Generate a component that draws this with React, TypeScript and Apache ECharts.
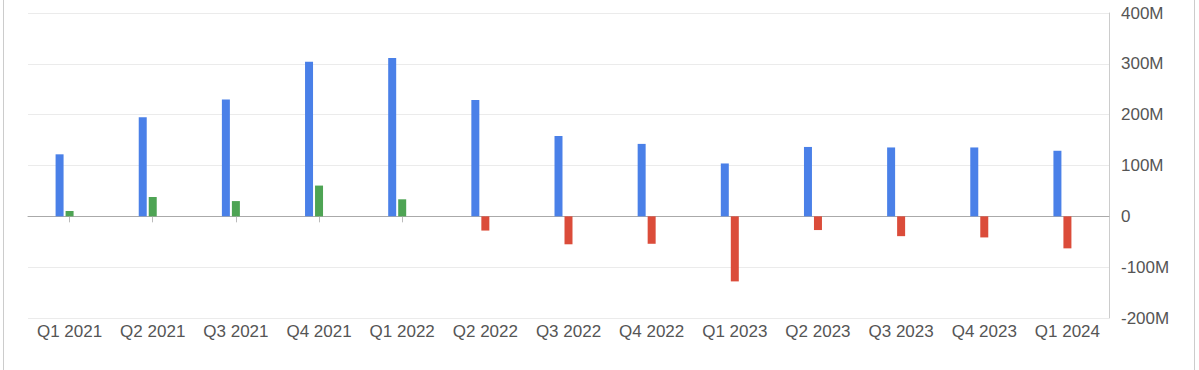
import React, { useEffect, useRef } from "react";
import * as echarts from "echarts";

const categories = ["Q1 2021", "Q2 2021", "Q3 2021", "Q4 2021", "Q1 2022", "Q2 2022", "Q3 2022", "Q4 2022", "Q1 2023", "Q2 2023", "Q3 2023", "Q4 2023", "Q1 2024"];
const revenue = [122, 195, 230, 304, 311.5, 229, 158, 142.5, 104, 136.5, 135.5, 135.5, 129];
const netIncome = [10.5, 38, 30, 60.5, 33.5, -28, -55, -54, -128, -27, -39, -41.5, -63];
const yTicks = { min: -200, max: 400, interval: 100 };

export default function App() {
  const ref = useRef<HTMLDivElement>(null);
  useEffect(() => {
    const chart = echarts.init(ref.current!, null, { renderer: "svg" });
    const M = 1e6;
    chart.setOption({
      animation: false,
      textStyle: { fontFamily: "Liberation Sans, Arial, sans-serif" },
      grid: { left: 28, right: 90, top: 13, bottom: 52, containLabel: false, outerBoundsMode: "none" },
      xAxis: {
        type: "category",
        data: categories,
        axisLine: { onZero: true, lineStyle: { color: "#aaaaaa" } },
        axisTick: { show: true, alignWithLabel: true, length: 6, lineStyle: { color: "#bbbbbb" } },
        axisLabel: { color: "#555555", fontSize: 17, margin: 5, interval: 0 },
      },
      yAxis: {
        type: "value",
        position: "right",
        min: yTicks.min * M,
        max: yTicks.max * M,
        interval: yTicks.interval * M,
        axisLine: { show: true, lineStyle: { color: "#cccccc" } },
        axisTick: { show: false },
        splitLine: { lineStyle: { color: "#ebebeb" } },
        axisLabel: {
          color: "#555555",
          fontSize: 17,
          margin: 12,
          formatter: (v: number) => (v === 0 ? "0" : `${v / M}M`),
        },
      },
      series: [
        {
          type: "bar",
          name: "Revenue",
          data: revenue.map((v) => v * M),
          barWidth: 8,
          barGap: "25%",
          itemStyle: { color: "#4a80e8" },
        },
        {
          type: "bar",
          name: "Net income",
          data: netIncome.map((v) => ({
            value: v * M,
            itemStyle: { color: v >= 0 ? "#4ea454" : "#db4c3a" },
          })),
          barWidth: 8,
          barGap: "25%",
        },
        {
          type: "bar",
          name: "pad",
          data: categories.map(() => null),
          barWidth: 8,
          barGap: "25%",
        },
      ],
    });
    return () => chart.dispose();
  }, []);
  return (
    <div
      style={{
        position: "fixed",
        left: 0,
        top: 0,
        width: 1199,
        height: 370,
        background: "#ffffff",
      }}
    >
      <div style={{ position: "absolute", left: 3, top: 0, width: 1, height: 370, background: "#cccccc" }} />
      <div style={{ position: "absolute", left: 1194, top: 0, width: 1, height: 370, background: "#cccccc" }} />
      <div ref={ref} style={{ position: "absolute", left: 0, top: 0, width: 1199, height: 370 }} />
    </div>
  );
}
